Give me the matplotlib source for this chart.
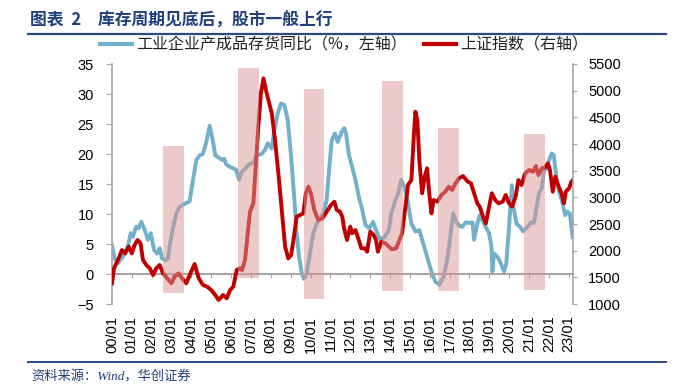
import matplotlib
matplotlib.use("Agg")
import matplotlib.pyplot as plt
from matplotlib.lines import Line2D

plt.rcParams["font.family"] = ["Liberation Sans", "Noto Sans CJK SC"]

# 工业企业产成品存货同比（%，左轴）; time = years since 2000/01
inv_t = [0.0, 0.13, 0.3, 0.55, 0.8, 0.94, 1.05, 1.22, 1.33, 1.48,
         1.65, 1.81, 1.95, 2.12, 2.28, 2.4, 2.52, 2.69, 2.82, 2.9,
         3.07, 3.24, 3.41, 3.66, 3.91, 4.08, 4.25, 4.42, 4.58, 4.75,
         4.92, 5.09, 5.2, 5.42, 5.55, 5.65, 5.75, 5.86, 6.11, 6.25,
         6.4, 6.53, 6.73, 6.87, 7.12, 7.29, 7.54, 7.71, 7.84, 8.04,
         8.18, 8.35, 8.51, 8.68, 8.85, 9.02, 9.19, 9.3, 9.42, 9.56,
         9.66, 9.81, 9.97, 10.14, 10.39, 10.65, 10.81, 10.93, 11.07, 11.23,
         11.37, 11.57, 11.7, 11.79, 11.92, 12.09, 12.26, 12.43, 12.59, 12.76,
         12.96, 13.15, 13.32, 13.52, 13.74, 13.94, 14.07, 14.27, 14.41, 14.57,
         14.75, 14.91, 15.08, 15.28, 15.48, 15.65, 15.87, 16.09, 16.29, 16.49,
         16.71, 16.88, 17.04, 17.18, 17.33, 17.55, 17.65, 17.82, 17.99, 18.16,
         18.24, 18.4, 18.52, 18.74, 18.99, 19.11, 19.16, 19.24, 19.41, 19.58,
         19.75, 19.86, 20.0, 20.14, 20.22, 20.37, 20.54, 20.71, 20.93, 21.1,
         21.25, 21.39, 21.52, 21.65, 21.76, 21.85, 22.02, 22.15, 22.25, 22.4,
         22.55, 22.72, 22.82, 22.94, 23.06, 23.2]
inv_v = [4.8, 2.6, 1.8, 2.9, 4.6, 6.8, 6.2, 7.9, 7.6, 8.7,
         7.3, 5.7, 6.8, 4.0, 3.4, 4.3, 2.6, 2.3, 2.6, 4.6,
         7.6, 10.1, 11.2, 11.7, 12.1, 15.7, 19.0, 19.8, 20.0, 22.0,
         24.7, 22.0, 19.8, 19.3, 19.0, 19.2, 18.3, 18.0, 17.6, 17.4,
         15.7, 17.0, 17.6, 18.2, 18.6, 19.8, 20.0, 20.7, 21.8, 20.9,
         24.0, 26.8, 28.4, 28.2, 25.7, 19.6, 12.3, 6.8, 2.9, 0.1,
         -0.8, 0.1, 3.4, 6.8, 9.0, 10.1, 12.3, 17.3, 22.3, 23.4,
         22.0, 23.7, 24.3, 23.4, 20.1, 17.9, 15.7, 12.9, 10.9, 8.2,
         7.6, 8.7, 7.1, 5.7, 6.2, 7.3, 10.1, 12.3, 13.4, 15.7,
         14.3, 11.8, 8.4, 7.1, 7.3, 5.4, 2.9, 0.4, -1.3, -1.8,
         -0.4, 2.3, 6.2, 10.1, 8.7, 7.9, 7.9, 8.6, 8.5, 8.6,
         5.7, 8.4, 9.8, 8.4, 6.8, 4.6, 0.4, 3.4, 2.9, 1.8,
         0.4, 1.8, 7.9, 14.8, 11.2, 8.4, 7.9, 7.1, 7.9, 8.6,
         8.5, 11.2, 13.7, 14.3, 17.3, 17.4, 19.0, 20.1, 19.8, 15.7,
         13.4, 11.5, 9.8, 10.4, 10.1, 6.2]

# 上证指数（右轴）
sh_t = [0.0, 0.1, 0.3, 0.5, 0.67, 0.84, 1.0, 1.14, 1.29, 1.44,
        1.56, 1.73, 1.9, 2.07, 2.23, 2.4, 2.57, 2.79, 2.99, 3.16,
        3.36, 3.53, 3.74, 3.95, 4.16, 4.37, 4.58, 4.79, 5.0, 5.2,
        5.37, 5.6, 5.78, 5.95, 6.11, 6.28, 6.45, 6.55, 6.7, 6.84,
        6.95, 7.12, 7.24, 7.37, 7.5, 7.63, 7.79, 8.05, 8.21, 8.38,
        8.55, 8.72, 8.88, 9.02, 9.14, 9.3, 9.48, 9.64, 9.76, 9.89,
        10.02, 10.19, 10.39, 10.6, 10.81, 11.03, 11.2, 11.32, 11.48, 11.6,
        11.7, 11.84, 12.0, 12.1, 12.26, 12.43, 12.56, 12.73, 12.85, 13.01,
        13.18, 13.3, 13.39, 13.57, 13.78, 13.94, 14.1, 14.31, 14.48, 14.61,
        14.78, 14.91, 15.08, 15.2, 15.28, 15.38, 15.48, 15.62, 15.75, 15.87,
        15.98, 16.09, 16.2, 16.39, 16.59, 16.79, 16.96, 17.13, 17.3, 17.47,
        17.68, 17.92, 18.08, 18.24, 18.4, 18.52, 18.66, 18.83, 18.96, 19.13,
        19.3, 19.47, 19.68, 19.83, 20.0, 20.15, 20.33, 20.47, 20.63, 20.81,
        21.01, 21.21, 21.35, 21.48, 21.65, 21.82, 21.95, 22.06, 22.2, 22.33,
        22.5, 22.64, 22.76, 22.86, 23.02, 23.14, 23.22]
sh_v = [1388, 1669, 1825, 2012, 1950, 2075, 1950, 2106, 2200, 2137,
        1825, 1731, 1669, 1544, 1669, 1731, 1575, 1481, 1388, 1512,
        1575, 1481, 1388, 1575, 1750, 1481, 1356, 1325, 1262, 1169,
        1075, 1169, 1106, 1262, 1325, 1637, 1669, 1637, 1825, 2325,
        2731, 2888, 3575, 4325, 4950, 5231, 4950, 4575, 4075, 3450,
        2762, 2075, 1856, 1919, 2200, 2637, 2669, 2700, 3075, 3200,
        3075, 2762, 2575, 2606, 2731, 2856, 2919, 2762, 2731, 2637,
        2400, 2200, 2450, 2325, 2387, 2200, 2044, 2044, 1981, 2356,
        2294, 2200, 1981, 2169, 2137, 2075, 2025, 2044, 2200, 2325,
        2825, 3231, 3325, 4137, 4606, 4450, 3700, 3075, 3387, 3544,
        3075, 2700, 2950, 2919, 3044, 3106, 3200, 3137, 3262, 3356,
        3400, 3294, 3262, 3075, 2888, 2825, 2669, 2512, 2762, 3075,
        2950, 2888, 2919, 3044, 2888, 2825, 3013, 3325, 3231, 3450,
        3512, 3481, 3587, 3419, 3544, 3562, 3637, 3512, 3106, 3387,
        3200, 3075, 2888, 3106, 3169, 3294, 3325]

# shaded periods (inventory bottoming), in left-axis units
band_start = [2.57, 6.33, 9.67, 13.6, 16.42, 20.77]
band_end = [3.63, 7.39, 10.7, 14.65, 17.47, 21.81]
band_top = [21.3, 34.3, 30.8, 32.2, 24.4, 23.3]
band_bottom = [-3.2, -0.7, -4.2, -2.9, -2.9, -2.7]

years = list(range(24))
year_labels = [f"{y:02d}/01" for y in years]
left_ticks = list(range(-5, 36, 5))
right_ticks = list(range(1000, 5501, 500))

TITLE = "图表  2　库存周期见底后，股市一般上行"
SOURCE = "资料来源：Wind，华创证券"
LBL_INV = "工业企业产成品存货同比（%，左轴）"
LBL_SH = "上证指数（右轴）"

BLUE = "#72B0CC"
RED = "#C00000"
GRAY = "#A6A6A6"
NAVY = "#1F3F7F"

W, H = 694, 386
fig = plt.figure(figsize=(W / 100, H / 100), dpi=100)
ax = fig.add_axes([112 / W, 82 / H, 461 / W, 240 / H])
ax2 = ax.twinx()
ax3 = ax.twinx()

ax.plot(inv_t, inv_v, color=BLUE, lw=2.8, solid_joinstyle="round")
ax2.plot(sh_t, sh_v, color=RED, lw=2.8, solid_joinstyle="round")
widths = [e - s for s, e in zip(band_start, band_end)]
heights = [t - b for t, b in zip(band_top, band_bottom)]
ax3.bar(band_start, heights, width=widths, bottom=band_bottom, align="edge",
        color="#D99694", alpha=0.5, linewidth=0)

ax.set_xlim(0, 23.22)
ax.set_ylim(-5, 35)
ax2.set_ylim(1000, 5500)
ax3.set_ylim(-5, 35)
ax3.set_axis_off()

ax.set_xticks(years, year_labels)
ax.set_yticks(left_ticks)
ax2.set_yticks(right_ticks)

for s in ["top", "right"]:
    ax.spines[s].set_visible(False)
for s in ["top", "left", "bottom"]:
    ax2.spines[s].set_visible(False)
ax.spines["left"].set_color(GRAY)
ax.spines["bottom"].set_color(GRAY)
ax.spines["bottom"].set_position(("data", 0))
ax.spines["bottom"].set_linewidth(1.5)
ax2.spines["right"].set_color(GRAY)
ax.spines["left"].set_linewidth(1.2)
ax2.spines["right"].set_linewidth(1.2)

ax.tick_params(axis="x", direction="out", length=3, color=GRAY, pad=27,
               labelrotation=90, labelsize=10.5)
ax.tick_params(axis="y", direction="out", length=4, color=GRAY, pad=9,
               labelsize=10.5)
ax2.tick_params(axis="y", direction="out", length=3, color=GRAY, pad=8,
                labelsize=10.5)

handles = [Line2D([], [], color=BLUE, lw=3), Line2D([], [], color=RED, lw=3)]
fig.legend(handles, [LBL_INV, LBL_SH], loc="center left",
           bbox_to_anchor=(100 / W, 1 - 45 / H), ncol=2, frameon=False,
           prop={"family": "Noto Sans CJK SC", "size": 11.5},
           labelcolor="#222222", handlelength=2.0, handletextpad=0.25,
           columnspacing=1.1, borderpad=0, borderaxespad=0)

fig.text(30 / W, 1 - 21 / H, TITLE, fontsize=12.1, weight="bold", color=NAVY,
         family="Noto Sans CJK SC", va="center", ha="left")
fig.add_artist(Line2D([28 / W, 666 / W], [1 - 33.5 / H] * 2, color="#2B4A84", lw=1.6))
fig.add_artist(Line2D([28 / W, 666 / W], [1 - 362 / H] * 2, color="#2B4A84", lw=1.4))
fig.text(31 / W, 1 - 376.5 / H, SOURCE, fontsize=9.5, style="italic", color=NAVY,
         family=["Liberation Serif", "Noto Sans CJK SC"], va="center", ha="left")

fig.savefig("out.png", dpi=100)
